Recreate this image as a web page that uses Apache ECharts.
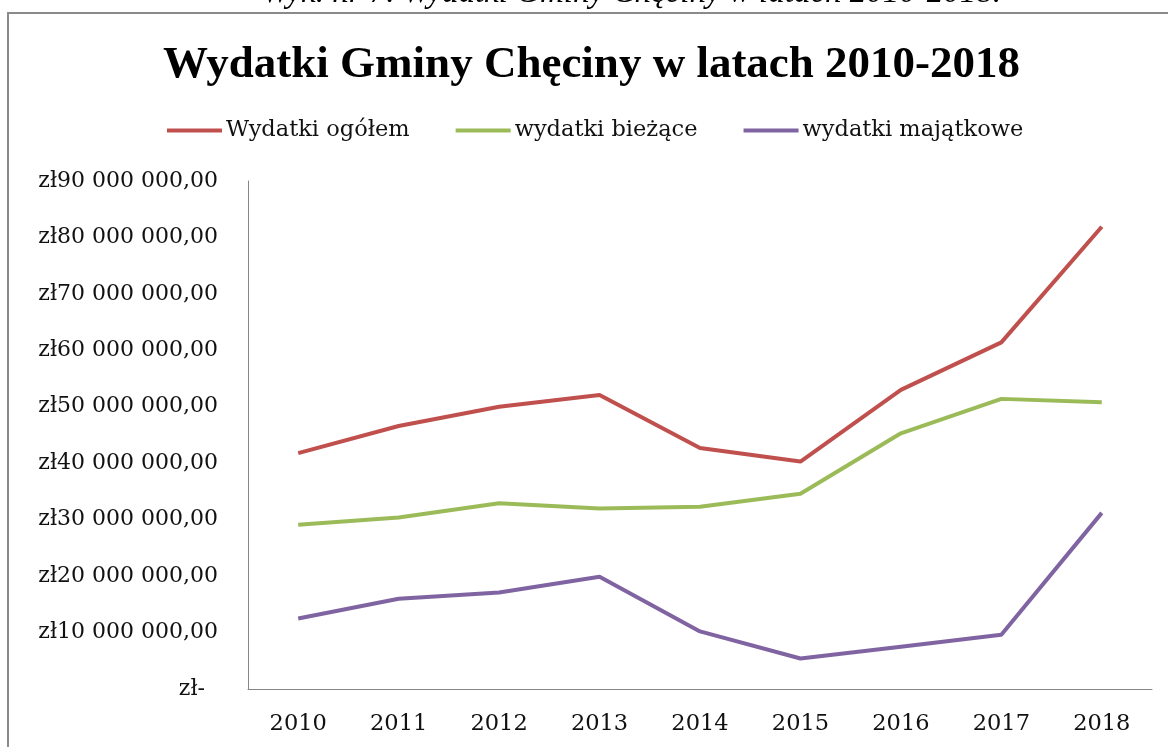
<!DOCTYPE html>
<html>
<head>
<meta charset="utf-8">
<script src="https://cdn.jsdelivr.net/npm/echarts@6/dist/echarts.min.js"></script>
<style>
  html, body { margin: 0; padding: 0; background: #fff; }
  #chart { width: 1168px; height: 747px; }
</style>
</head>
<body>
<div id="chart"></div>
<script>
// dane z wykresu
const years = ['2010', '2011', '2012', '2013', '2014', '2015', '2016', '2017', '2018']
const wydatkiOgolem = [41800000, 46600000, 50000000, 52100000, 42700000, 40300000, 53000000, 61400000, 81900000]
const wydatkiBiezace = [29100000, 30400000, 32900000, 32000000, 32300000, 34600000, 45300000, 51400000, 50800000]
const wydatkiMajatkowe = [12500000, 16000000, 17100000, 19900000, 10200000, 5400000, 7500000, 9600000, 31200000]
const seriesNames = ['Wydatki ogółem', 'wydatki bieżące', 'wydatki majątkowe']

const chart = echarts.init(document.getElementById('chart'))

// format księgowy: zł90 000 000,00, zero jako "zł-"
const formatZl = (v) => {
  if (v === 0) return '{z|zł-}'
  const s = String(Math.round(v)).replace(/\B(?=(\d{3})+(?!\d))/g, ' ')
  return 'zł' + s + ',00'
}

const serif = 'DejaVu Serif'

const makeLine = (name, data, color) => ({
  name,
  type: 'line',
  data,
  symbol: 'none',
  lineStyle: { width: 4, color },
  itemStyle: { color }
})

const option = {
  backgroundColor: '#fff',
  animation: false,
  title: {
    text: 'Wydatki Gminy Chęciny w latach 2010-2018',
    left: 158,
    top: 38,
    textStyle: {
      fontFamily: 'Liberation Serif',
      fontWeight: 'bold',
      fontSize: 45,
      color: '#000'
    }
  },
  legend: {
    top: 114,
    left: 162,
    itemWidth: 55,
    itemHeight: 4,
    itemGap: 46,
    icon: 'rect',
    data: seriesNames,
    textStyle: { fontFamily: serif, fontSize: 22.5, color: '#111', padding: [0, 0, 0, -1] }
  },
  grid: { left: 248, right: 16, top: 181, bottom: 58 },
  xAxis: {
    type: 'category',
    data: years,
    boundaryGap: true,
    axisLine: { lineStyle: { color: '#868686', width: 1 } },
    axisTick: { show: false },
    axisLabel: { fontFamily: serif, fontSize: 22.5, color: '#111', margin: 24 }
  },
  yAxis: {
    type: 'value',
    min: 0,
    max: 90000000,
    interval: 10000000,
    axisLine: { show: true, lineStyle: { color: '#868686', width: 1 } },
    axisTick: { show: false },
    splitLine: { show: false },
    axisLabel: {
      fontFamily: serif,
      fontSize: 22,
      color: '#111',
      margin: 30,
      formatter: formatZl,
      rich: {
        z: { fontFamily: serif, fontSize: 22, color: '#111', padding: [0, 13, 0, 0] }
      }
    }
  },
  graphic: [
    {
      type: 'rect',
      shape: { x: 8, y: 13, width: 1200, height: 800 },
      style: { fill: 'none', stroke: '#8a8a8a', lineWidth: 2 },
      silent: true
    },
    {
      type: 'text',
      left: 262,
      top: -23,
      style: {
        text: 'Wyk. nr 7. Wydatki Gminy Chęciny w latach 2010-2018.',
        font: 'italic 33px "Liberation Serif"',
        fill: '#000'
      }
    }
  ],
  series: [
    makeLine(seriesNames[0], wydatkiOgolem, '#C0504D'),
    makeLine(seriesNames[1], wydatkiBiezace, '#9BBB59'),
    makeLine(seriesNames[2], wydatkiMajatkowe, '#8064A2')
  ]
}

chart.setOption(option)
window.addEventListener('resize', () => chart.resize())
</script>
</body>
</html>
